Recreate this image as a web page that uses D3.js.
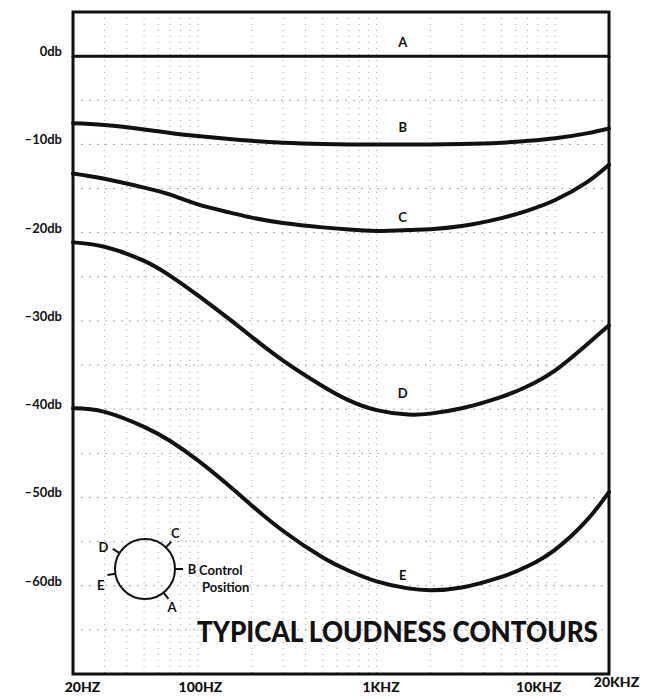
<!DOCTYPE html>
<html>
<head>
<meta charset="utf-8">
<script src="https://cdn.jsdelivr.net/npm/d3@7"></script>
<style>
  body { margin: 0; background: #fff; }
  text { font-family: Lato, "DejaVu Sans", sans-serif; font-weight: 700; fill: #111; }
</style>
</head>
<body>
<div id="chart"></div>
<script>
// frequencies (Hz) the contours are read at
var freqs = [20, 30, 50, 70, 100, 150, 200, 300, 500, 700, 1000, 1500, 2000, 3000, 5000, 7000, 10000, 15000, 20000];

// response (db) for each control position
var curveA = [0, 0, 0, 0, 0, 0, 0, 0, 0, 0, 0, 0, 0, 0, 0, 0, 0, 0, 0];
var curveB = [-7.6, -7.8, -8.3, -8.7, -9.05, -9.4, -9.6, -9.8, -9.95, -10.0, -10.0, -10.0, -10.0, -9.95, -9.8, -9.6, -9.3, -8.75, -8.2];
var curveC = [-13.3, -13.9, -14.9, -15.7, -16.8, -17.7, -18.3, -18.9, -19.4, -19.65, -19.8, -19.7, -19.6, -19.25, -18.35, -17.5, -16.3, -14.3, -12.3];
var curveD = [-21.1, -21.6, -23.2, -24.9, -27.1, -29.8, -31.8, -34.5, -37.4, -39.0, -40.1, -40.6, -40.5, -39.9, -38.6, -37.4, -35.6, -32.7, -30.5];
var curveE = [-39.9, -40.3, -42.0, -43.6, -45.8, -48.7, -50.9, -53.8, -56.8, -58.3, -59.5, -60.3, -60.5, -60.2, -59.0, -57.8, -55.9, -52.6, -49.4];

var curveNames = ['A', 'B', 'C', 'D', 'E'];
// where the letter sits on each curve (freq, db)
var labelFreq = [1400, 1400, 1400, 1400, 1400];
var labelDb = [1.0, -8.6, -18.8, -38.7, -59.4];

var yTicks = [0, -10, -20, -30, -40, -50, -60];
var xTicks = [20, 100, 1000, 10000, 20000];
var xTickLabels = ['20HZ', '100HZ', '1KHZ', '10KHZ', '20KHZ'];

// control knob positions (degrees clockwise from 12 o'clock)
var knobNames = ['A', 'B', 'C', 'D', 'E'];
var knobAngles = [142, 90, 44, -58, -99];
var knobLabelAngles = [145, 90, 40, -62, -110];

var width = 645, height = 698;
var plotLeft = 73, plotRight = 609, plotTop = 12, plotBottom = 674;

var svg = d3.select('#chart').append('svg')
    .attr('width', width)
    .attr('height', height);

var x = d3.scaleLog().domain([20, 20000]).range([plotLeft, plotRight]);
var y = d3.scaleLinear().domain([-70, 5]).range([plotBottom, plotTop]);

// dotted graph-paper grid
var minor = [];
[10, 100, 1000, 10000].forEach(function(dec) {
    for (var k = 1; k < 10; k++) {
        var f = dec * k;
        if (f > 20 && f < 20000) minor.push(f);
    }
});
svg.append('g').selectAll('line')
    .data(minor)
    .enter().append('line')
    .attr('x1', function(d) { return x(d); })
    .attr('x2', function(d) { return x(d); })
    .attr('y1', plotTop)
    .attr('y2', plotBottom)
    .attr('stroke', '#a8a8a8')
    .attr('stroke-width', 1)
    .attr('stroke-dasharray', '1,5');

svg.append('g').selectAll('line')
    .data(d3.range(-65, 5, 5))
    .enter().append('line')
    .attr('x1', plotLeft)
    .attr('x2', plotRight)
    .attr('y1', function(d) { return y(d); })
    .attr('y2', function(d) { return y(d); })
    .attr('stroke', '#a8a8a8')
    .attr('stroke-width', 1)
    .attr('stroke-dasharray', '2,6');

// frame
svg.append('rect')
    .attr('x', plotLeft)
    .attr('y', plotTop)
    .attr('width', plotRight - plotLeft)
    .attr('height', plotBottom - plotTop)
    .attr('fill', 'none')
    .attr('stroke', '#111')
    .attr('stroke-width', 3);

// axes
var yAxis = svg.append('g')
    .attr('transform', 'translate(' + plotLeft + ',0)')
    .call(d3.axisLeft(y).tickValues(yTicks).tickSize(0).tickPadding(11)
        .tickFormat(function(d) { return d === 0 ? '0db' : '\u2013' + Math.abs(d) + 'db'; }));
yAxis.select('.domain').remove();
yAxis.selectAll('text')
    .attr('dy', '-0.05em')
    .style('font-size', '13px')
    .style('font-family', 'Lato, sans-serif')
    .style('font-weight', 700)
    .attr('fill', '#111');

var xAxis = svg.append('g')
    .attr('transform', 'translate(0,' + plotBottom + ')')
    .call(d3.axisBottom(x).tickValues(xTicks).tickSize(0).tickPadding(7)
        .tickFormat(function(d, i) { return xTickLabels[i]; }));
xAxis.select('.domain').remove();
xAxis.selectAll('text')
    .style('font-size', '14px')
    .style('font-family', 'Lato, sans-serif')
    .style('font-weight', 900)
    .attr('fill', '#111')
    .attr('dx', function(d, i) { return [9, 2, 4, -17, 7][i]; })
    .attr('dy', function(d, i) { return i === 4 ? '0.45em' : '0.75em'; });

// contours
var series = [curveA, curveB, curveC, curveD, curveE];
var line = d3.line()
    .x(function(d, i) { return x(freqs[i]); })
    .y(function(d) { return y(d); })
    .curve(d3.curveNatural);

svg.append('g').selectAll('path')
    .data(series)
    .enter().append('path')
    .attr('d', line)
    .attr('fill', 'none')
    .attr('stroke', '#111')
    .attr('stroke-width', function(d, i) { return i === 0 ? 3 : 4; })
    .attr('stroke-linecap', 'round');

svg.append('g').selectAll('text')
    .data(curveNames)
    .enter().append('text')
    .attr('x', function(d, i) { return x(labelFreq[i]); })
    .attr('y', function(d, i) { return y(labelDb[i]); })
    .attr('text-anchor', 'middle')
    .style('font-size', '13px')
    .text(function(d) { return d; });

// control position knob
var cx = 145, cy = 569, r = 30;
var knob = svg.append('g');
knob.append('circle')
    .attr('cx', cx).attr('cy', cy).attr('r', r)
    .attr('fill', 'none')
    .attr('stroke', '#111')
    .attr('stroke-width', 2);

function polar(angle, rad) {
    var a = angle * Math.PI / 180;
    return [cx + rad * Math.sin(a), cy - rad * Math.cos(a)];
}

knob.selectAll('line')
    .data(knobAngles)
    .enter().append('line')
    .attr('x1', function(d) { return polar(d, r)[0]; })
    .attr('y1', function(d) { return polar(d, r)[1]; })
    .attr('x2', function(d) { return polar(d, r + 8)[0]; })
    .attr('y2', function(d) { return polar(d, r + 8)[1]; })
    .attr('stroke', '#111')
    .attr('stroke-width', 2);

knob.selectAll('text')
    .data(knobNames)
    .enter().append('text')
    .attr('x', function(d, i) { return polar(knobLabelAngles[i], r + 17)[0]; })
    .attr('y', function(d, i) { return polar(knobLabelAngles[i], r + 17)[1]; })
    .attr('text-anchor', 'middle')
    .attr('dy', '0.36em')
    .style('font-size', '13px')
    .text(function(d) { return d; });

knob.append('text')
    .attr('x', 199).attr('y', 575)
    .style('font-size', '13px')
    .text('Control');
knob.append('text')
    .attr('x', 202).attr('y', 592)
    .style('font-size', '13px')
    .text('Position');

// title
svg.append('text')
    .attr('x', 197)
    .attr('y', 642)
    .attr('textLength', 401)
    .attr('lengthAdjust', 'spacingAndGlyphs')
    .style('font-size', '28px')
    .style('font-weight', 900)
    .text('TYPICAL LOUDNESS CONTOURS');
</script>
</body>
</html>
